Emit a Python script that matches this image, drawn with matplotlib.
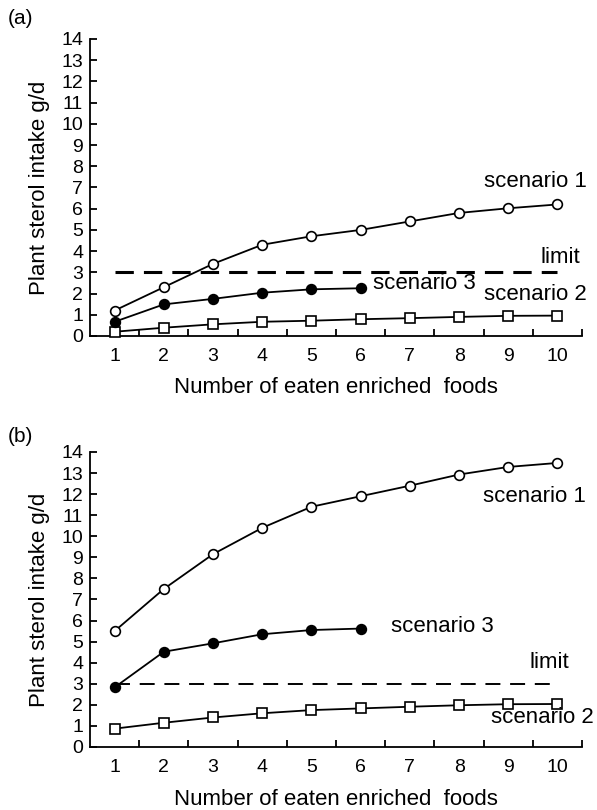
import matplotlib
matplotlib.use("Agg")
import matplotlib.pyplot as plt
from matplotlib.ticker import MultipleLocator, FixedLocator

plt.rcParams['font.family'] = ['Liberation Sans', 'DejaVu Sans']

foods = [1, 2, 3, 4, 5, 6, 7, 8, 9, 10]
foods_s3 = [1, 2, 3, 4, 5, 6]
limit_value = 3

a_scenario1 = [1.2, 2.3, 3.4, 4.3, 4.7, 5.0, 5.4, 5.8, 6.02, 6.2]
a_scenario2 = [0.2, 0.39, 0.55, 0.67, 0.72, 0.79, 0.84, 0.9, 0.95, 0.96]
a_scenario3 = [0.67, 1.49, 1.75, 2.04, 2.2, 2.25]

b_scenario1 = [5.5, 7.5, 9.15, 10.4, 11.4, 11.9, 12.4, 12.93, 13.29, 13.48]
b_scenario2 = [0.87, 1.15, 1.4, 1.6, 1.75, 1.83, 1.91, 1.98, 2.03, 2.04]
b_scenario3 = [2.83, 4.52, 4.92, 5.35, 5.55, 5.62]

xlabel = "Number of eaten enriched  foods"
ylabel = "Plant sterol intake g/d"

fig = plt.figure(figsize=(5.97, 8.10), dpi=100)
ax_a = fig.add_axes([0.1508, 0.5852, 0.8242, 0.3667])
ax_b = fig.add_axes([0.1508, 0.0778, 0.8242, 0.3642])

TFS = 14
LFS = 16

def style(ax, xlabelpad):
    ax.set_xlim(0.5, 10.5)
    ax.set_ylim(0, 14)
    for s in ['top', 'right']:
        ax.spines[s].set_visible(False)
    for s in ['left', 'bottom']:
        ax.spines[s].set_linewidth(1.3)
    ax.yaxis.set_major_locator(MultipleLocator(1))
    ax.xaxis.set_major_locator(FixedLocator(foods))
    ax.xaxis.set_minor_locator(FixedLocator([f + 0.5 for f in foods]))
    ax.tick_params(axis='y', direction='in', length=5, width=1.3, labelsize=TFS, pad=5)
    ax.tick_params(axis='x', which='major', length=0, labelsize=TFS, pad=9)
    ax.tick_params(axis='x', which='minor', direction='in', length=5, width=1.3)
    ax.set_xlabel(xlabel, fontsize=LFS, labelpad=xlabelpad)
    ax.set_ylabel(ylabel, fontsize=LFS, labelpad=8)

def draw(ax, s1, s2, s3, dash_lw, dashes):
    ax.plot(foods, [limit_value] * len(foods), color='black', lw=dash_lw,
            dashes=dashes, zorder=1)
    ax.plot(foods, s1, color='black', lw=1.3, marker='o', ms=7,
            mfc='white', mec='black', mew=1.2, zorder=3, clip_on=False)
    ax.plot(foods, s2, color='black', lw=1.3, marker='s', ms=6.5,
            mfc='white', mec='black', mew=1.2, zorder=3, clip_on=False)
    ax.plot(foods_s3, s3, color='black', lw=1.3, marker='o', ms=7,
            mfc='black', mec='black', mew=1.2, zorder=3, clip_on=False)

style(ax_a, 8)
draw(ax_a, a_scenario1, a_scenario2, a_scenario3, 2.2, (6, 3.3))
ax_a.text(8.51, 7.04, "scenario 1", ha='left', va='baseline', fontsize=LFS)
ax_a.text(10.46, 3.43, "limit", ha='right', va='baseline', fontsize=LFS)
ax_a.text(6.26, 2.2, "scenario 3", ha='left', va='baseline', fontsize=LFS)
ax_a.text(8.51, 1.7, "scenario 2", ha='left', va='baseline', fontsize=LFS)

style(ax_b, 9)
draw(ax_b, b_scenario1, b_scenario2, b_scenario3, 1.4, (7.7, 5))
ax_b.text(8.49, 11.64, "scenario 1", ha='left', va='baseline', fontsize=LFS)
ax_b.text(6.62, 5.47, "scenario 3", ha='left', va='baseline', fontsize=LFS)
ax_b.text(10.23, 3.73, "limit", ha='right', va='baseline', fontsize=LFS)
ax_b.text(8.65, 1.15, "scenario 2", ha='left', va='baseline', fontsize=LFS)

fig.text(8 / 597, 1 - 18 / 810, "(a)", fontsize=15, ha='left', va='center')
fig.text(8 / 597, 1 - 437 / 810, "(b)", fontsize=15, ha='left', va='center')

fig.savefig("out.png", dpi=100)
